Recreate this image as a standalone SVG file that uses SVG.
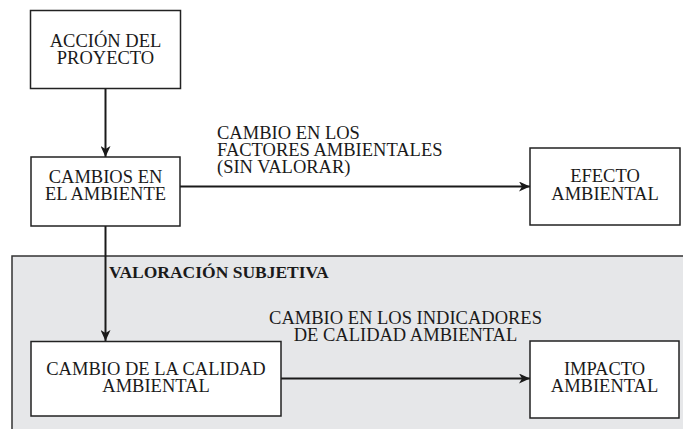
<svg xmlns="http://www.w3.org/2000/svg" width="683" height="429" viewBox="0 0 683 429">
<style>
.box{fill:#ffffff;stroke:#222;stroke-width:1.5}
.t{font-family:"Liberation Serif","Times New Roman",serif;font-size:18.5px;fill:#1a1a1a}
.c{text-anchor:middle}
.b{font-weight:bold;font-size:17.5px}
.ln{stroke:#1a1a1a;stroke-width:2;fill:none}
</style>
<defs>
<marker id="arr" markerUnits="userSpaceOnUse" markerWidth="12" markerHeight="10" refX="11" refY="5" orient="auto">
<path d="M0,0 L11,5 L0,10 L3,5 z" fill="#1a1a1a"/>
</marker>
</defs>
<rect width="683" height="429" fill="#ffffff"/>
<g id="region">
<rect x="12" y="256" width="700" height="200" fill="#e6e7e9" stroke="#333" stroke-width="1.5"/>
<text class="t b" x="109" y="278">VALORACIÓN SUBJETIVA</text>
</g>
<g id="connectors">
<line class="ln" x1="105.5" y1="88" x2="105.5" y2="157" marker-end="url(#arr)"/>
<line class="ln" x1="180" y1="186.5" x2="530" y2="186.5" marker-end="url(#arr)"/>
<line class="ln" x1="105.5" y1="226" x2="105.5" y2="341" marker-end="url(#arr)"/>
<line class="ln" x1="281" y1="378.5" x2="530" y2="378.5" stroke-width="1.6" marker-end="url(#arr)"/>
<text class="t" x="217" y="139">CAMBIO EN LOS</text>
<text class="t" x="217" y="156">FACTORES AMBIENTALES</text>
<text class="t" x="217" y="173">(SIN VALORAR)</text>
<text class="t c" x="405.5" y="323.5">CAMBIO EN LOS INDICADORES</text>
<text class="t c" x="405.5" y="341">DE CALIDAD AMBIENTAL</text>
</g>
<g id="accion">
<rect class="box" x="30.5" y="10.5" width="150" height="78"/>
<text class="t c" x="105.5" y="46.5">ACCIÓN DEL</text>
<text class="t c" x="105.5" y="63.5">PROYECTO</text>
</g>
<g id="cambios">
<rect class="box" x="31" y="157" width="149" height="69"/>
<text class="t c" x="105.5" y="182.5">CAMBIOS EN</text>
<text class="t c" x="105.5" y="200">EL AMBIENTE</text>
</g>
<g id="efecto">
<rect class="box" x="530" y="148" width="150" height="77"/>
<text class="t c" x="605" y="181.5">EFECTO</text>
<text class="t c" x="605" y="199.5">AMBIENTAL</text>
</g>
<g id="calidad">
<rect class="box" x="31" y="341.5" width="250" height="74.5"/>
<text class="t c" x="156" y="374.5">CAMBIO DE LA CALIDAD</text>
<text class="t c" x="156" y="392">AMBIENTAL</text>
</g>
<g id="impacto">
<rect class="box" x="530" y="341" width="149" height="77"/>
<text class="t c" x="604.5" y="375">IMPACTO</text>
<text class="t c" x="604.5" y="392">AMBIENTAL</text>
</g>
</svg>
